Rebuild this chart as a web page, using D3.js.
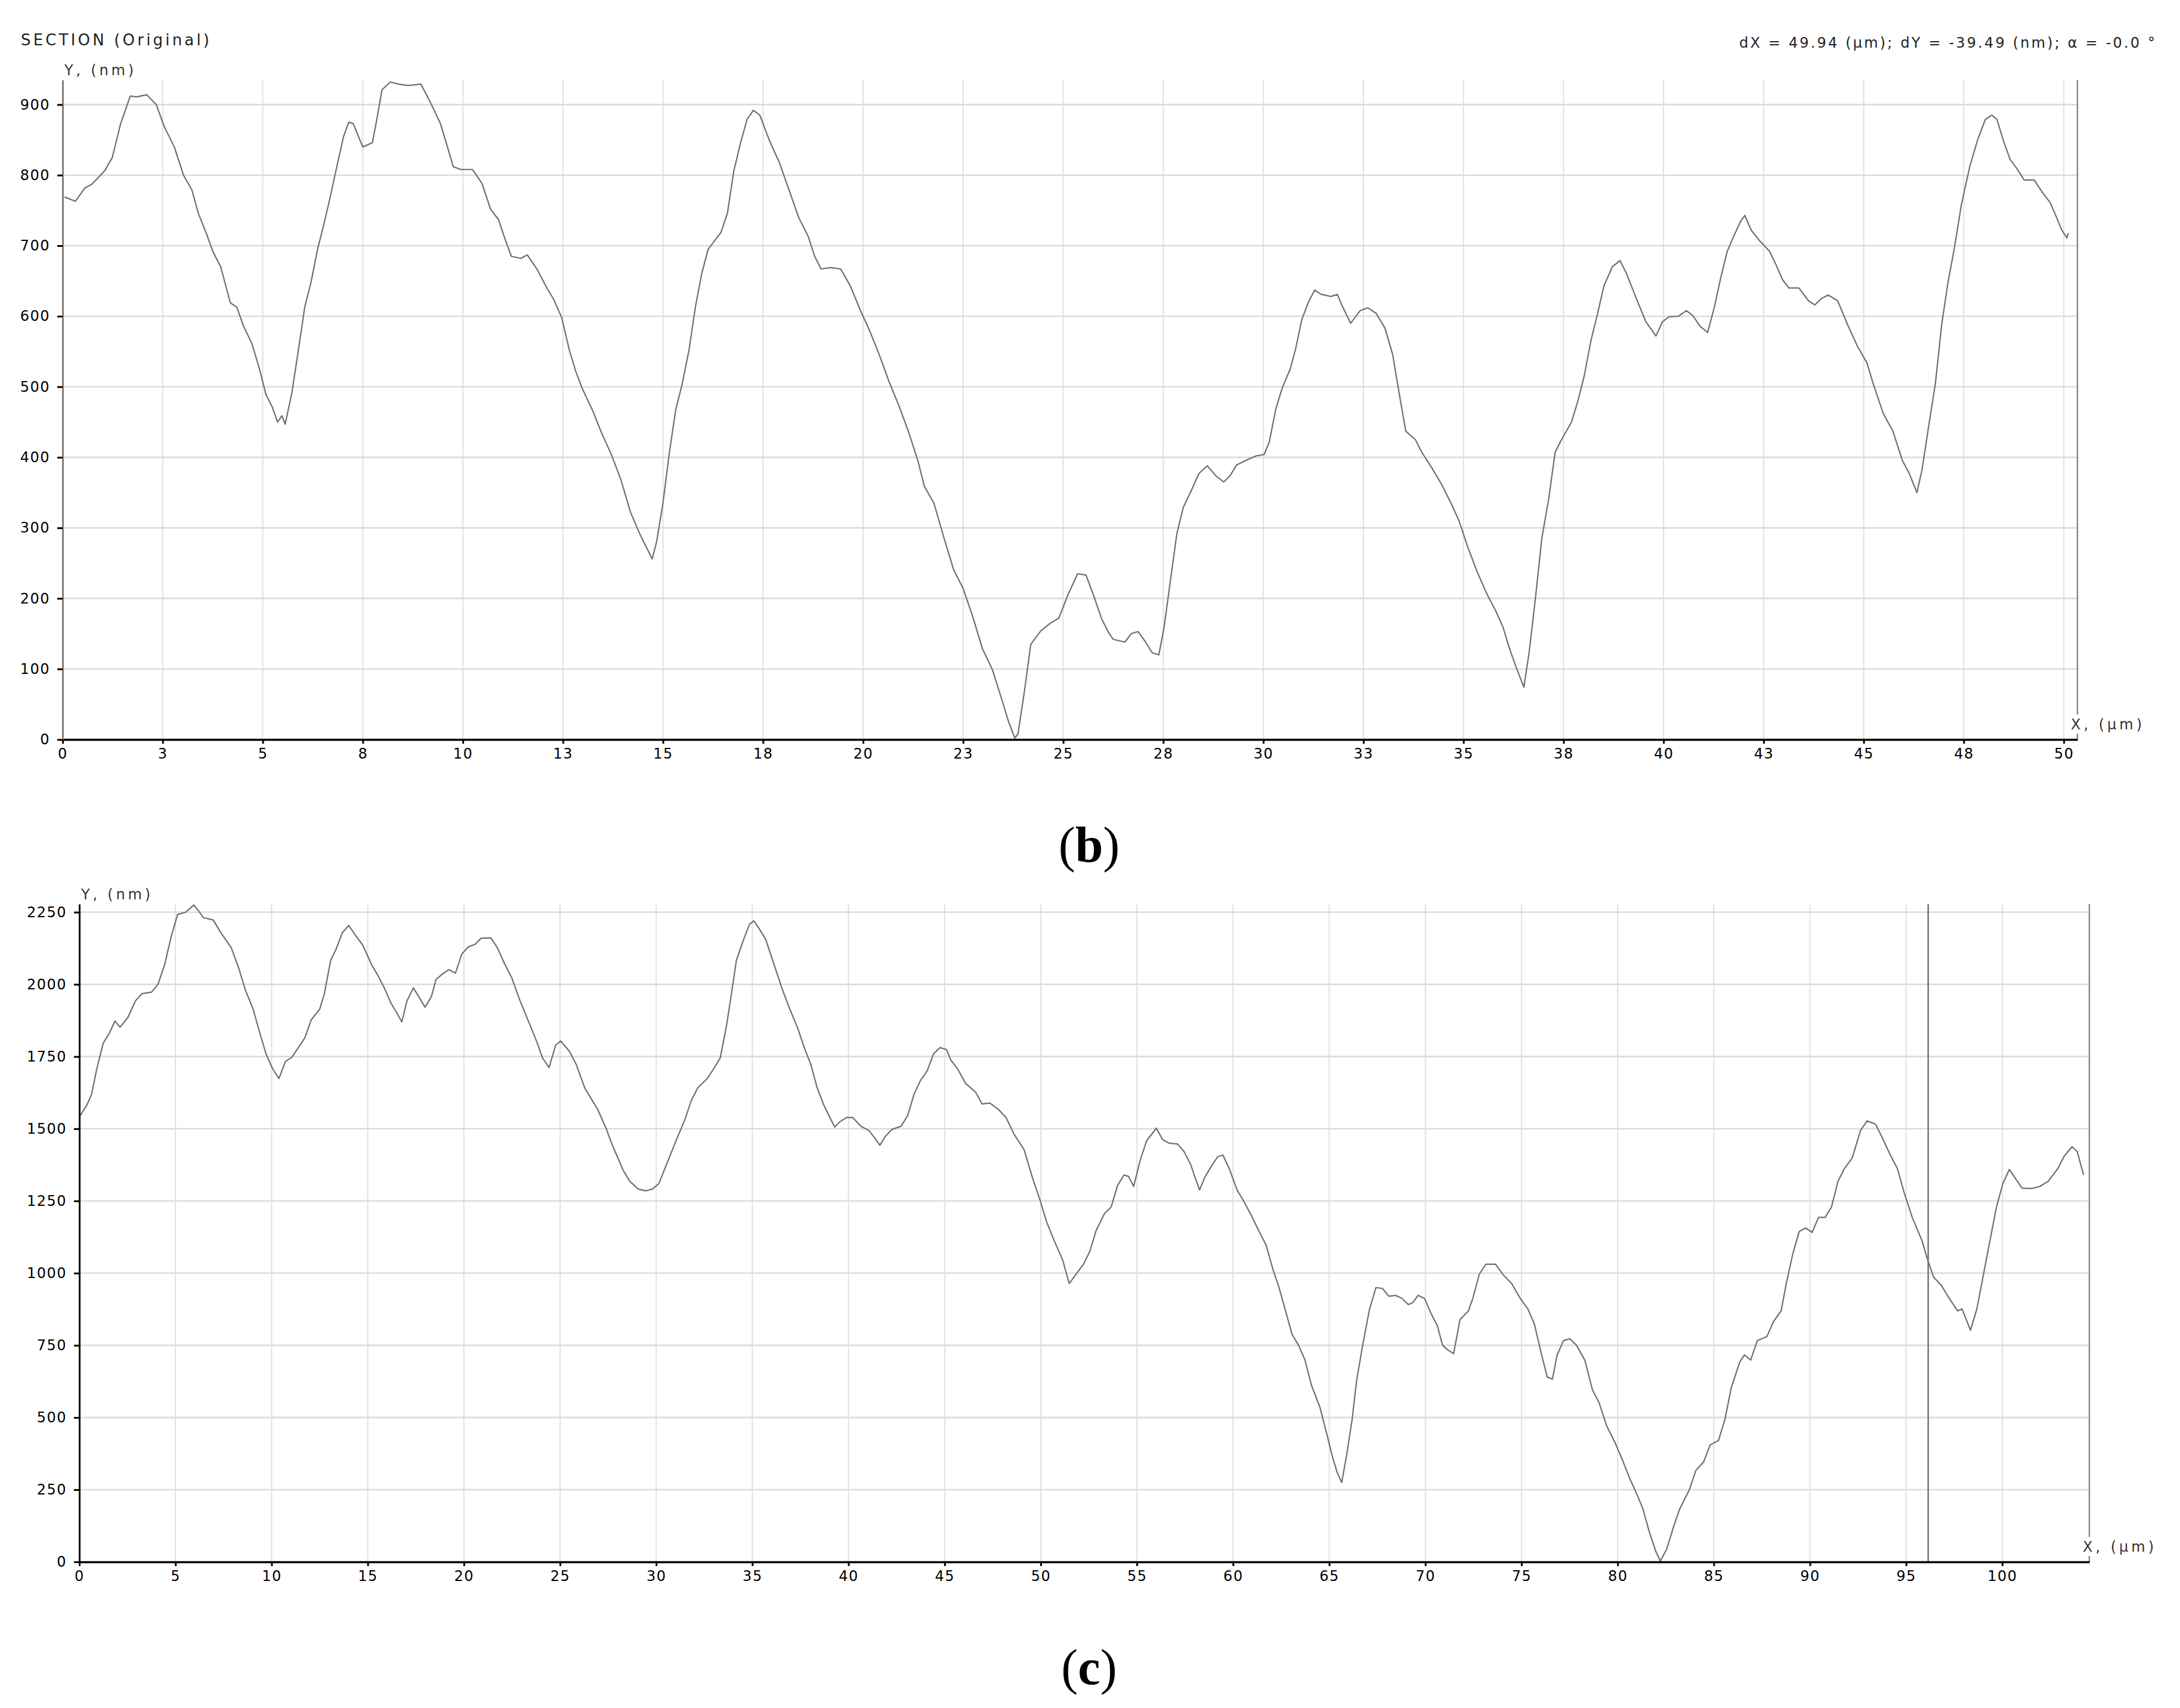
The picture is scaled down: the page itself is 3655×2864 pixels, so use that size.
<!DOCTYPE html>
<html>
<head>
<meta charset="utf-8">
<script src="https://cdn.jsdelivr.net/npm/d3@7"></script>
<style>
  body { margin: 0; background: #fff; }
  svg text { font-family: "DejaVu Sans", Verdana, sans-serif; }
</style>
</head>
<body>
<svg id="chart" width="3655" height="2864"></svg>
<script>

// section profile (b): X in um, Y in nm
var profileBX = [0.05, 0.32, 0.56, 0.73, 1.05, 1.24, 1.45, 1.69, 1.85, 2.10, 2.34, 2.53, 2.79, 3.02, 3.23, 3.39, 3.60, 3.76, 3.95, 4.19,
    4.35, 4.52, 4.73, 4.92, 5.08, 5.24, 5.37, 5.48, 5.56, 5.73, 5.89, 6.05, 6.21, 6.37, 6.53, 6.69, 6.85, 7.02, 7.15, 7.26,
    7.50, 7.74, 7.85, 7.98, 8.19, 8.39, 8.63, 8.95, 9.19, 9.44, 9.60, 9.76, 9.95, 10.24, 10.48, 10.69, 10.89, 11.05, 11.21, 11.45,
    11.61, 11.85, 12.10, 12.26, 12.47, 12.66, 12.82, 12.98, 13.23, 13.47, 13.71, 13.95, 14.19, 14.44, 14.60, 14.73, 14.84, 15.00, 15.16, 15.32,
    15.48, 15.65, 15.81, 15.97, 16.13, 16.29, 16.45, 16.61, 16.77, 16.94, 17.10, 17.26, 17.42, 17.66, 17.90, 18.15, 18.39, 18.63, 18.79, 18.95,
    19.19, 19.44, 19.68, 19.92, 20.16, 20.40, 20.65, 20.89, 21.13, 21.37, 21.53, 21.77, 22.02, 22.26, 22.50, 22.74, 22.98, 23.23, 23.47, 23.63,
    23.79, 23.87, 24.03, 24.19, 24.44, 24.68, 24.89, 25.11, 25.36, 25.57, 25.76, 25.96, 26.12, 26.25, 26.54, 26.70, 26.87, 27.06, 27.22, 27.39,
    27.52, 27.68, 27.84, 28.00, 28.20, 28.39, 28.60, 28.81, 29.01, 29.17, 29.33, 29.58, 29.82, 30.02, 30.15, 30.31, 30.47, 30.67, 30.80, 30.96,
    31.12, 31.28, 31.45, 31.69, 31.85, 31.96, 32.18, 32.42, 32.61, 32.82, 33.04, 33.23, 33.39, 33.56, 33.80, 33.96, 34.20, 34.45, 34.69, 34.89,
    35.10, 35.34, 35.58, 35.80, 35.99, 36.15, 36.32, 36.51, 36.64, 36.80, 36.96, 37.13, 37.29, 37.45, 37.70, 37.86, 38.02, 38.18, 38.34, 38.51,
    38.72, 38.91, 39.07, 39.32, 39.56, 39.81, 39.97, 40.13, 40.37, 40.57, 40.73, 40.91, 41.10, 41.27, 41.43, 41.59, 41.75, 41.92, 42.03, 42.19,
    42.40, 42.65, 42.81, 42.97, 43.13, 43.38, 43.62, 43.78, 43.94, 44.11, 44.35, 44.59, 44.84, 45.08, 45.24, 45.49, 45.73, 45.97, 46.14, 46.33,
    46.46, 46.62, 46.79, 46.95, 47.11, 47.27, 47.44, 47.65, 47.84, 48.04, 48.20, 48.33, 48.49, 48.66, 48.82, 49.01, 49.26, 49.46, 49.66, 49.82,
    49.95, 50.08, 50.11];
var profileBY = [769, 763, 782, 787, 806, 825, 873, 912, 911, 914, 900, 870, 840, 800, 779, 746, 716, 691, 670, 619,
    613, 586, 561, 525, 489, 471, 450, 459, 447, 492, 552, 613, 649, 695, 731, 770, 812, 855, 875, 873,
    840, 846, 879, 921, 932, 929, 927, 929, 903, 873, 843, 812, 808, 808, 788, 752, 737, 710, 685, 682,
    687, 667, 640, 625, 598, 552, 522, 498, 468, 434, 404, 368, 322, 289, 271, 256, 280, 335, 407, 468,
    504, 552, 613, 661, 695, 707, 719, 746, 806, 846, 879, 892, 885, 849, 819, 779, 740, 713, 685, 667,
    669, 667, 643, 610, 580, 546, 507, 474, 437, 395, 359, 335, 286, 241, 214, 174, 129, 99, 56, 26,
    2, 8, 68, 135, 154, 165, 172, 204, 235, 233, 204, 171, 153, 142, 138, 150, 153, 138, 123, 120,
    159, 226, 292, 329, 353, 377, 388, 374, 365, 374, 389, 396, 402, 404, 422, 468, 498, 525, 552, 595,
    619, 637, 631, 628, 631, 616, 590, 608, 612, 604, 583, 546, 492, 437, 425, 407, 386, 362, 335, 310,
    274, 238, 207, 183, 159, 129, 102, 74, 123, 201, 286, 341, 407, 425, 450, 480, 516, 564, 601, 643,
    670, 679, 661, 625, 592, 572, 592, 599, 600, 608, 601, 586, 577, 613, 655, 692, 713, 734, 743, 722,
    707, 692, 673, 652, 640, 640, 622, 616, 625, 630, 622, 589, 558, 534, 504, 462, 437, 395, 377, 350,
    383, 443, 504, 589, 649, 698, 758, 812, 849, 879, 885, 879, 849, 822, 810, 793, 793, 776, 761, 740,
    722, 711, 718];

// section profile (c): X in um, Y in nm
var profileCX = [0.00, 0.40, 0.64, 0.91, 1.24, 1.58, 1.85, 2.12, 2.52, 2.92, 3.26, 3.76, 4.10, 4.44, 4.77, 5.11, 5.54, 5.95, 6.22, 6.45,
    6.96, 7.36, 7.90, 8.30, 8.64, 9.04, 9.38, 9.71, 10.05, 10.38, 10.72, 11.06, 11.39, 11.73, 12.06, 12.50, 12.74, 13.07, 13.34, 13.68,
    14.01, 14.35, 14.75, 15.19, 15.52, 15.86, 16.20, 16.53, 16.77, 17.04, 17.37, 17.71, 17.98, 18.31, 18.55, 18.89, 19.22, 19.56, 19.89, 20.23,
    20.57, 20.90, 21.40, 21.74, 22.08, 22.48, 22.92, 23.42, 23.82, 24.09, 24.43, 24.77, 25.03, 25.50, 25.84, 26.28, 26.61, 26.95, 27.39, 27.72,
    27.96, 28.29, 28.63, 29.07, 29.47, 29.80, 30.14, 30.54, 30.98, 31.49, 31.82, 32.16, 32.66, 32.99, 33.33, 33.67, 33.91, 34.17, 34.51, 34.85,
    35.08, 35.35, 35.69, 36.02, 36.53, 36.86, 37.36, 37.70, 38.04, 38.37, 38.71, 38.98, 39.28, 39.55, 39.89, 40.22, 40.63, 41.06, 41.40, 41.63,
    41.90, 42.24, 42.74, 43.08, 43.41, 43.75, 44.09, 44.42, 44.76, 45.10, 45.33, 45.67, 46.10, 46.61, 46.94, 47.35, 47.78, 48.19, 48.62, 49.13,
    49.56, 49.97, 50.30, 50.70, 51.14, 51.48, 51.81, 52.22, 52.55, 52.88, 53.32, 53.66, 53.99, 54.33, 54.56, 54.83, 55.17, 55.50, 56.01, 56.34,
    56.68, 57.12, 57.45, 57.79, 58.02, 58.26, 58.53, 58.86, 59.20, 59.47, 59.80, 60.21, 60.54, 60.95, 61.38, 61.72, 62.06, 62.39, 62.73, 63.07,
    63.40, 63.74, 64.08, 64.51, 64.85, 65.18, 65.42, 65.65, 65.92, 66.19, 66.42, 66.76, 67.10, 67.43, 67.77, 68.10, 68.44, 68.78, 69.11, 69.35,
    69.62, 69.95, 70.29, 70.63, 70.89, 71.13, 71.47, 71.80, 72.24, 72.47, 72.81, 73.15, 73.65, 74.05, 74.49, 74.93, 75.33, 75.67, 76.00, 76.34,
    76.61, 76.84, 77.18, 77.51, 77.85, 78.29, 78.69, 79.03, 79.43, 79.87, 80.20, 80.64, 81.04, 81.31, 81.65, 81.98, 82.22, 82.55, 82.89, 83.23,
    83.73, 84.07, 84.47, 84.81, 85.24, 85.58, 85.91, 86.35, 86.59, 86.92, 87.26, 87.76, 88.10, 88.50, 88.77, 89.11, 89.44, 89.78, 90.11, 90.45,
    90.79, 91.12, 91.46, 91.79, 92.20, 92.63, 92.97, 93.41, 93.74, 94.15, 94.55, 94.89, 95.32, 95.83, 96.09, 96.43, 96.84, 97.24, 97.68, 97.91,
    98.35, 98.68, 99.02, 99.36, 99.70, 100.03, 100.37, 100.71, 101.04, 101.54, 101.95, 102.39, 102.89, 103.23, 103.63, 103.90, 104.23];
var profileCY = [1541, 1583, 1620, 1708, 1796, 1833, 1873, 1852, 1885, 1943, 1968, 1973, 2002, 2069, 2164, 2242, 2250, 2275, 2253, 2231,
    2223, 2179, 2127, 2054, 1980, 1914, 1833, 1759, 1708, 1674, 1733, 1748, 1781, 1815, 1877, 1914, 1966, 2083, 2120, 2179,
    2204, 2171, 2135, 2069, 2032, 1988, 1936, 1899, 1870, 1943, 1988, 1951, 1921, 1958, 2017, 2036, 2051, 2039, 2105, 2130,
    2138, 2160, 2161, 2127, 2076, 2024, 1943, 1862, 1796, 1745, 1712, 1789, 1804, 1767, 1723, 1642, 1605, 1568, 1502, 1443,
    1406, 1355, 1318, 1291, 1285, 1291, 1310, 1377, 1450, 1531, 1597, 1642, 1674, 1708, 1745, 1862, 1966, 2083, 2149, 2208,
    2220, 2193, 2157, 2091, 1988, 1929, 1848, 1781, 1723, 1642, 1583, 1546, 1506, 1524, 1539, 1539, 1509, 1494, 1465, 1443,
    1472, 1497, 1509, 1546, 1620, 1668, 1700, 1759, 1781, 1774, 1737, 1708, 1656, 1627, 1586, 1589, 1568, 1539, 1480, 1428,
    1332, 1251, 1178, 1112, 1045, 964, 994, 1031, 1075, 1148, 1207, 1229, 1303, 1340, 1335, 1300, 1391, 1458, 1502, 1462,
    1450, 1447, 1421, 1377, 1332, 1288, 1332, 1369, 1403, 1409, 1362, 1288, 1251, 1200, 1141, 1097, 1016, 950, 869, 788,
    751, 699, 611, 537, 449, 361, 309, 275, 375, 493, 626, 758, 876, 950, 947, 920, 923, 913, 891, 898,
    923, 913, 861, 817, 751, 736, 721, 839, 869, 913, 997, 1031, 1031, 994, 964, 913, 876, 824, 729, 640,
    633, 714, 766, 773, 751, 699, 596, 552, 471, 412, 361, 287, 228, 184, 103, 37, 3, 44, 118, 184,
    250, 317, 346, 405, 420, 493, 604, 692, 717, 699, 766, 780, 832, 869, 964, 1067, 1144, 1156, 1141, 1193,
    1193, 1229, 1318, 1362, 1399, 1494, 1527, 1516, 1472, 1413, 1362, 1281, 1193, 1112, 1053, 986, 957, 913, 869, 876,
    802, 876, 994, 1112, 1229, 1310, 1359, 1325, 1294, 1293, 1300, 1318, 1362, 1406, 1438, 1421, 1340];

// ticks
var tickBX = [0, 2.5, 5, 7.5, 10, 12.5, 15, 17.5, 20, 22.5, 25, 27.5, 30, 32.5, 35, 37.5, 40, 42.5, 45, 47.5, 50];
var labelBX = ["0", "3", "5", "8", "10", "13", "15", "18", "20", "23", "25", "28", "30", "33", "35", "38", "40", "43", "45", "48", "50"];
var tickBY = [0, 100, 200, 300, 400, 500, 600, 700, 800, 900];
var tickCX = [0, 5, 10, 15, 20, 25, 30, 35, 40, 45, 50, 55, 60, 65, 70, 75, 80, 85, 90, 95, 100];
var labelCX = ["0", "5", "10", "15", "20", "25", "30", "35", "40", "45", "50", "55", "60", "65", "70", "75", "80", "85", "90", "95", "100"];
var tickCY = [0, 250, 500, 750, 1000, 1250, 1500, 1750, 2000, 2250];

var svg = d3.select("#chart");

svg.append("rect")
    .attr("width", 3655)
    .attr("height", 2864)
    .attr("fill", "#fff");

function drawPanel(p) {
    var x = d3.scaleLinear().domain([0, p.xMax]).range([p.left, p.right]);
    var y = d3.scaleLinear().domain([0, p.yMax]).range([p.bottom, p.top]);

    var g = svg.append("g");

    // grid
    g.selectAll("line.vgrid")
        .data(p.xTicks.slice(1))
        .enter().append("line")
        .attr("class", "vgrid")
        .attr("x1", function(d) { return x(d); })
        .attr("x2", function(d) { return x(d); })
        .attr("y1", p.top)
        .attr("y2", p.bottom)
        .attr("stroke", "#e0e0e0")
        .attr("stroke-width", 2);

    g.selectAll("line.hgrid")
        .data(p.yTicks.slice(1))
        .enter().append("line")
        .attr("class", "hgrid")
        .attr("x1", p.left)
        .attr("x2", p.right)
        .attr("y1", function(d) { return y(d); })
        .attr("y2", function(d) { return y(d); })
        .attr("stroke", "#dcdcdc")
        .attr("stroke-width", 2.6);

    // profile line
    var points = p.xs.map(function(v, i) { return [v, p.ys[i]]; });
    var line = d3.line()
        .x(function(d) { return x(d[0]); })
        .y(function(d) { return y(d[1]); });

    g.append("path")
        .datum(points)
        .attr("d", line)
        .attr("fill", "none")
        .attr("stroke", "#6e6e6e")
        .attr("stroke-width", 2.2)
        .attr("stroke-linejoin", "round");

    // cursor marker
    if (p.cursor != null) {
        g.append("line")
            .attr("x1", x(p.cursor))
            .attr("x2", x(p.cursor))
            .attr("y1", p.top)
            .attr("y2", p.bottom)
            .attr("stroke", "#777")
            .attr("stroke-width", 2.6);
    }

    // right end line
    g.append("line")
        .attr("x1", p.right)
        .attr("x2", p.right)
        .attr("y1", p.top)
        .attr("y2", p.bottom)
        .attr("stroke", "#858585")
        .attr("stroke-width", 2.4);

    // axes
    var xAxis = d3.axisBottom(x)
        .tickValues(p.xTicks)
        .tickFormat(function(d, i) { return p.xLabels[i]; })
        .tickSize(7)
        .tickSizeOuter(0)
        .tickPadding(8);

    var gx = g.append("g")
        .attr("transform", "translate(0," + p.bottom + ")")
        .call(xAxis);

    gx.select(".domain")
        .attr("stroke", "#000")
        .attr("stroke-width", 3.6);

    var yAxis = d3.axisLeft(y)
        .tickValues(p.yTicks)
        .tickFormat(d3.format("d"))
        .tickSize(9)
        .tickSizeOuter(0)
        .tickPadding(12);

    var gy = g.append("g")
        .attr("transform", "translate(" + p.left + ",0)")
        .call(yAxis);

    gy.select(".domain")
        .attr("stroke", p.yAxisColor)
        .attr("stroke-width", 3);

    [gx, gy].forEach(function(a) {
        a.attr("font-family", null).attr("font-size", null);
        a.selectAll(".tick line")
            .attr("stroke", "#000")
            .attr("stroke-width", 3);
        a.selectAll(".tick text")
            .attr("fill", "#000")
            .style("font-size", "24px")
            .style("letter-spacing", "1.5px");
    });

    // axis names
    g.append("text")
        .attr("x", p.left + 3)
        .attr("y", p.top - 8)
        .attr("textLength", 116)
        .attr("fill", "#333")
        .style("font-size", "24px")
        .text("Y, (nm)");

    var xName = g.append("text")
        .attr("x", p.right - 11)
        .attr("y", p.bottom - 17)
        .attr("textLength", 119)
        .attr("fill", "#333")
        .style("font-size", "24px")
        .text("X, (\u03bcm)");

    var box = xName.node().getBBox();
    g.insert("rect", function() { return xName.node(); })
        .attr("x", box.x - 2)
        .attr("y", box.y - 3)
        .attr("width", box.width + 4)
        .attr("height", box.height + 4)
        .attr("fill", "#fff");

    // caption
    var cap = svg.append("text")
        .attr("x", p.captionX)
        .attr("y", p.captionY)
        .attr("text-anchor", "middle")
        .style("font-family", "'Liberation Serif', 'DejaVu Serif', serif")
        .style("font-size", "84px")
        .attr("fill", "#000");
    cap.append("tspan").text("(");
    cap.append("tspan").style("font-weight", "bold").text(p.caption);
    cap.append("tspan").text(")");
}

// header texts
svg.append("text")
    .attr("x", 35)
    .attr("y", 76)
    .attr("textLength", 316)
    .attr("fill", "#222")
    .style("font-size", "26px")
    .text("SECTION (Original)");

svg.append("text")
    .attr("x", 2916)
    .attr("y", 80)
    .attr("textLength", 697)
    .attr("fill", "#222")
    .style("font-size", "24px")
    .text("dX = 49.94 (\u03bcm); dY = -39.49 (nm); \u03b1 = -0.0 \u00b0");

drawPanel({
    left: 105, right: 3483, top: 134, bottom: 1240,
    xMax: 50.34, yMax: 935,
    xs: profileBX, ys: profileBY,
    xTicks: tickBX, xLabels: labelBX, yTicks: tickBY,
    yAxisColor: "#808080",
    cursor: null,
    caption: "b", captionX: 1826, captionY: 1445
});

drawPanel({
    left: 133, right: 3503, top: 1516, bottom: 2619,
    xMax: 104.53, yMax: 2278,
    xs: profileCX, ys: profileCY,
    xTicks: tickCX, xLabels: labelCX, yTicks: tickCY,
    yAxisColor: "#000",
    cursor: 96.15,
    caption: "c", captionX: 1826, captionY: 2824
});

</script>
</body>
</html>
